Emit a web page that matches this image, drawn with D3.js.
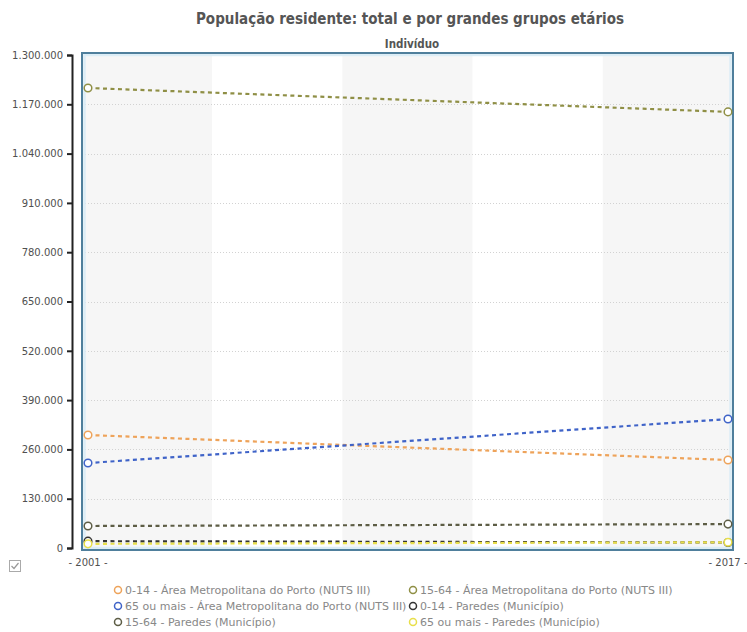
<!DOCTYPE html>
<html>
<head>
<meta charset="utf-8">
<script src="https://cdn.jsdelivr.net/npm/d3@7"></script>
<style>
  html, body { margin: 0; padding: 0; background: #fff; }
  svg { display: block; }
</style>
</head>
<body>
<svg id="chart" width="747" height="632"></svg>
<script>
// Years on the horizontal axis
const years = [2001, 2017];

// Series names (legend order) and their values per year
const seriesNames = [
  "0-14 - Área Metropolitana do Porto (NUTS III)",
  "15-64 - Área Metropolitana do Porto (NUTS III)",
  "65 ou mais - Área Metropolitana do Porto (NUTS III)",
  "0-14 - Paredes (Município)",
  "15-64 - Paredes (Município)",
  "65 ou mais - Paredes (Município)"
];
const values014AMP = [298000, 232000];
const values1564AMP = [1213000, 1150000];
const values65AMP = [224000, 340000];
const values014Paredes = [18000, 14500];
const values1564Paredes = [58000, 63000];
const values65Paredes = [11000, 15000];
const seriesValues = [values014AMP, values1564AMP, values65AMP, values014Paredes, values1564Paredes, values65Paredes];
const seriesColors = ["#eea35a", "#8f8f45", "#3f63c8", "#333333", "#5d5d45", "#e8df4a"];

// Y axis ticks
const yTicks = [0, 130000, 260000, 390000, 520000, 650000, 780000, 910000, 1040000, 1170000, 1300000];

const svg = d3.select("#chart");
const frame = { left: 82, right: 733, top: 53, bottom: 550 };

const x = d3.scaleLinear().domain([years[0], years[years.length - 1]]).range([88, 728]);
const y = d3.scaleLinear().domain([0, 1300000]).range([548, 55]);
const fmt = d3.formatLocale({ decimal: ",", thousands: ".", grouping: [3], currency: ["", ""] }).format(",d");

// Title and unit
svg.append("text").attr("x", 410).attr("y", 24).attr("text-anchor", "middle")
  .attr("font-family", "DejaVu Sans Condensed, DejaVu Sans").attr("font-weight", "bold").attr("font-size", 15)
  .attr("fill", "#555").text("População residente: total e por grandes grupos etários");
svg.append("text").attr("x", 412).attr("y", 48).attr("text-anchor", "middle")
  .attr("font-family", "DejaVu Sans Condensed, DejaVu Sans").attr("font-weight", "bold").attr("font-size", 11.5)
  .attr("fill", "#555").text("Indivíduo");

// Alternating background bands
const bands = d3.scaleBand().domain(d3.range(5)).range([frame.left, frame.right]);
svg.append("g").selectAll("rect").data(bands.domain()).join("rect")
  .attr("x", d => bands(d)).attr("y", frame.top)
  .attr("width", bands.bandwidth()).attr("height", frame.bottom - frame.top)
  .attr("fill", d => d % 2 === 0 ? "#f6f6f6" : "#ffffff");

// Horizontal grid
svg.append("g").selectAll("line").data(yTicks.filter(t => t > 0 && t < 1300000)).join("line")
  .attr("x1", frame.left).attr("x2", frame.right)
  .attr("y1", d => Math.round(y(d)) + 0.5).attr("y2", d => Math.round(y(d)) + 0.5)
  .attr("stroke", "#d2d2d2").attr("stroke-width", 1).attr("stroke-dasharray", "1,2");

// Frame
svg.append("rect").attr("x", frame.left + 2.5).attr("y", frame.top + 2)
  .attr("width", frame.right - frame.left - 5).attr("height", frame.bottom - frame.top - 4)
  .attr("fill", "none").attr("stroke", "#dcedf6").attr("stroke-width", 2.5);
svg.append("rect").attr("x", frame.left).attr("y", frame.top)
  .attr("width", frame.right - frame.left).attr("height", frame.bottom - frame.top)
  .attr("fill", "none").attr("stroke", "#4f7f9c").attr("stroke-width", 2);

// Y axis
const yAxis = d3.axisLeft(y).tickValues(yTicks).tickFormat(fmt).tickSize(5).tickPadding(4);
const yg = svg.append("g").attr("transform", "translate(72,0)").call(yAxis);
yg.select(".domain").attr("stroke", "#222").attr("stroke-width", 2);
yg.selectAll(".tick line").attr("stroke", "#222").attr("stroke-width", 2);
yg.selectAll(".tick text").attr("font-family", "DejaVu Sans").attr("font-size", 10).attr("fill", "#505050");

// X axis labels
svg.append("g").selectAll("text").data(years).join("text")
  .attr("x", d => x(d)).attr("y", 566).attr("text-anchor", "middle")
  .attr("font-family", "DejaVu Sans").attr("font-size", 10).attr("fill", "#505050")
  .text(d => "- " + d + " -");

// Series lines and markers
const line = d3.line().x((d, i) => x(years[i])).y(d => y(d));
const series = svg.append("g").selectAll("g").data(seriesValues).join("g");
series.append("path")
  .attr("d", d => line(d))
  .attr("fill", "none").attr("stroke", (d, i) => seriesColors[i])
  .attr("stroke-width", 2.2).attr("stroke-dasharray", "4,3.5");
series.selectAll("circle").data((d, i) => d.map((v, j) => ({ v, j, i }))).join("circle")
  .attr("cx", d => x(years[d.j])).attr("cy", d => y(d.v)).attr("r", 3.8)
  .attr("fill", "#fff").attr("stroke", d => seriesColors[d.i]).attr("stroke-width", 1.5);

// Checkbox icon
const cb = svg.append("g").attr("transform", "translate(9,560)");
cb.append("rect").attr("x", 0.5).attr("y", 0.5).attr("width", 11).attr("height", 11)
  .attr("fill", "#fff").attr("stroke", "#aaa");
cb.append("path").attr("d", "M2.5,6 L5,8.5 L9.5,3").attr("fill", "none").attr("stroke", "#999").attr("stroke-width", 1.2);

// Legend
const legendPos = [[118, 590], [413, 590], [118, 606], [413, 606], [118, 622], [413, 622]];
const legend = svg.append("g").selectAll("g").data(seriesNames).join("g")
  .attr("transform", (d, i) => `translate(${legendPos[i][0]},${legendPos[i][1]})`);
legend.append("circle").attr("cx", 0).attr("cy", 0).attr("r", 3.5)
  .attr("fill", "#fff").attr("stroke", (d, i) => seriesColors[i]).attr("stroke-width", 1.5);
legend.append("text").attr("x", 7).attr("y", 3.5)
  .attr("font-family", "DejaVu Sans").attr("font-size", 11).attr("fill", "#888")
  .text(d => d);
</script>
</body>
</html>
